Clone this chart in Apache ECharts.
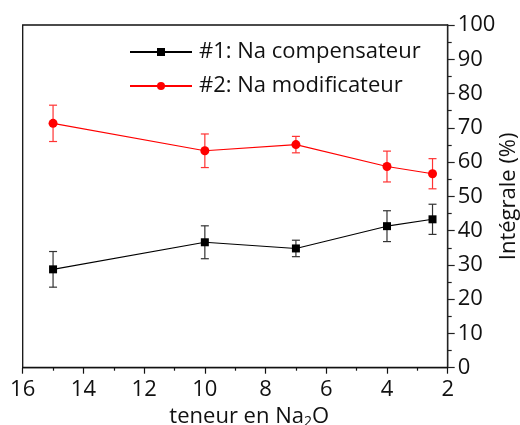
<!DOCTYPE html>
<html><head><meta charset="utf-8">
<script src="https://cdn.jsdelivr.net/npm/echarts@6/dist/echarts.min.js"></script>
<style>html,body{margin:0;padding:0;background:#fff}#c{width:520px;height:425px}</style>
</head><body><div id="c"></div>
<script>
const xValues = [15, 10, 7, 4, 2.5];
const s1Values = [28.7, 36.6, 34.8, 41.3, 43.3];
const s1Errors = [5.2, 4.8, 2.4, 4.5, 4.4];
const s2Values = [71.3, 63.3, 65.1, 58.7, 56.6];
const s2Errors = [5.3, 4.9, 2.4, 4.5, 4.4];
const s1Name = '#1: Na compensateur';
const s2Name = '#2: Na modificateur';
const xTicks = [16, 14, 12, 10, 8, 6, 4, 2];
const yTicks = [0, 10, 20, 30, 40, 50, 60, 70, 80, 90, 100];

const FONT = 'Open Sans';
const chart = echarts.init(document.getElementById('c'), null, {renderer: 'canvas'});

function errData(vals, errs) {
  return xValues.map((x, i) => [x, vals[i] - errs[i], vals[i] + errs[i]]);
}
function errRender(color) {
  return function (params, api) {
    const x = api.value(0);
    const lo = api.coord([x, api.value(1)]);
    const hi = api.coord([x, api.value(2)]);
    const w = 4;
    const st = {stroke: color, lineWidth: 1.2};
    return {type: 'group', children: [
      {type: 'line', shape: {x1: lo[0], y1: lo[1], x2: hi[0], y2: hi[1]}, style: st},
      {type: 'line', shape: {x1: lo[0] - w, y1: lo[1], x2: lo[0] + w, y2: lo[1]}, style: st},
      {type: 'line', shape: {x1: hi[0] - w, y1: hi[1], x2: hi[0] + w, y2: hi[1]}, style: st}
    ]};
  };
}

chart.setOption({
  animation: false,
  textStyle: {fontFamily: FONT},
  grid: {left: 22.7, right: 72.3, top: 25, bottom: 57.3, show: true, borderColor: '#111', borderWidth: 1.3,
         outerBoundsMode: 'none', containLabel: false},
  legend: {
    orient: 'vertical', left: 124, top: 36,
    itemWidth: 62, itemHeight: 10, itemGap: 12,
    data: [s1Name, s2Name],
    textStyle: {fontFamily: FONT, fontSize: 22, color: '#111', padding: [0, 0, 0, 2]}
  },
  xAxis: {
    type: 'value', inverse: true, min: 2, max: 16, interval: 2,
    splitLine: {show: false},
    axisLine: {onZero: false, lineStyle: {color: '#111', width: 1.3}},
    axisTick: {length: 6, lineStyle: {color: '#111', width: 1.2}},
    minorTick: {show: true, splitNumber: 2, length: 3, lineStyle: {color: '#111', width: 1.2}},
    axisLabel: {
      fontFamily: FONT, fontSize: 22, color: '#111', margin: 11,
      formatter: v => xTicks.includes(v) ? String(v) : ''
    },
    name: 'teneur en Na{s|2}O', nameLocation: 'middle', nameGap: 37,
    nameTextStyle: {
      fontFamily: FONT, fontSize: 22, color: '#111', padding: [0, 0, 0, 28],
      rich: {s: {fontFamily: FONT, fontSize: 14, color: '#111', verticalAlign: 'bottom', padding: [10, 0, 0, 0]}}
    }
  },
  yAxis: {
    type: 'value', position: 'right', min: 0, max: 100, interval: 10,
    splitLine: {show: false},
    axisLine: {show: true, lineStyle: {color: '#222', width: 1.3}},
    axisTick: {show: true, length: 7, lineStyle: {color: '#222', width: 1.2}},
    minorTick: {show: true, splitNumber: 2, length: 4, lineStyle: {color: '#222', width: 1.2}},
    axisLabel: {
      fontFamily: FONT, fontSize: 22, color: '#111', margin: 10,
      formatter: v => yTicks.includes(v) ? String(v) : ''
    },
    name: 'Intégrale (%)', nameLocation: 'middle', nameGap: 50, nameRotate: 90, nameMoveOverlap: false,
    nameTextStyle: {fontFamily: FONT, fontSize: 22, color: '#111'}
  },
  series: [
    {type: 'custom', name: 'err1', data: errData(s1Values, s1Errors), renderItem: errRender('#333'),
     encode: {x: 0, y: [1, 2]}, z: 2, silent: true},
    {type: 'custom', name: 'err2', data: errData(s2Values, s2Errors), renderItem: errRender('#f33'),
     encode: {x: 0, y: [1, 2]}, z: 2, silent: true},
    {type: 'line', name: s1Name, data: xValues.map((x, i) => [x, s1Values[i]]),
     symbol: 'rect', symbolSize: 8, color: '#000', lineStyle: {color: '#000', width: 1.1},
     itemStyle: {color: '#000'}, z: 3},
    {type: 'line', name: s2Name, data: xValues.map((x, i) => [x, s2Values[i]]),
     symbol: 'circle', symbolSize: 9, color: '#f00', lineStyle: {color: '#f00', width: 1.1},
     itemStyle: {color: '#f00'}, z: 3}
  ]
});
</script></body></html>
